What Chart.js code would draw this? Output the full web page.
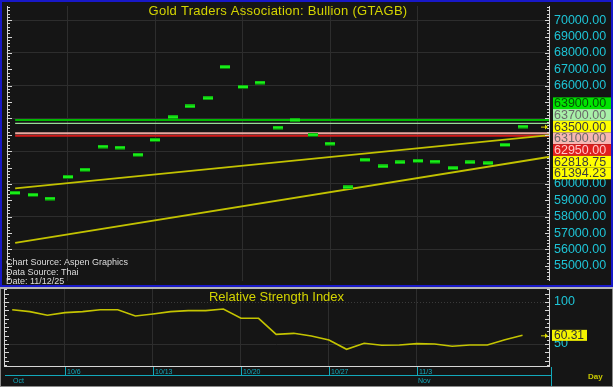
<!DOCTYPE html>
<html><head><meta charset="utf-8">
<script src="https://cdn.jsdelivr.net/npm/chart.js@4.4.1/dist/chart.umd.min.js"></script>
<style>
html,body{margin:0;padding:0;background:#151515;width:613px;height:387px;overflow:hidden;}
canvas{position:absolute;left:0;}
#frame{position:absolute;left:0;top:0;width:613px;height:287px;box-sizing:border-box;border:2px solid #1818c8;pointer-events:none;}
#sep{position:absolute;left:0;top:287px;width:613px;height:2px;background:#b4b4b4;pointer-events:none;}
#botframe{position:absolute;left:0;top:289px;width:613px;height:98px;box-sizing:border-box;border:1px solid #8a8a8a;border-top:none;pointer-events:none;}
</style></head><body>
<canvas id="cTop" width="613" height="287" style="top:0"></canvas>
<canvas id="cBot" width="613" height="100" style="top:287px"></canvas>
<div id="frame"></div><div id="sep"></div><div id="botframe"></div>
<script>
// ---------------- DATA ----------------
const dates = ['10/1','10/2','10/3','10/6','10/7','10/8','10/9','10/10','10/13','10/14','10/15','10/16','10/17','10/20','10/21','10/22','10/23','10/24','10/27','10/28','10/29','10/30','10/31','11/3','11/4','11/5','11/6','11/7','11/10','11/11'];
const closeValues = [59450,59330,59110,60425,60870,62280,62220,61780,62680,64070,64730,65230,67140,65920,66190,63440,63890,63000,62460,59790,61470,61065,61320,61405,61365,60965,61320,61260,62380,63500];
const rsiValues = [90.8,88.5,84.2,87.3,88.5,90.8,90.8,83.3,85.7,88.5,89.7,89.7,91.7,80.6,80.6,61.5,62.7,59.5,54.8,43.7,50.8,48.5,48.8,50.4,50.0,47.3,48.8,48.8,55.1,60.31];
const weekTickLabels = ['10/6','10/13','10/20','10/27','11/3'];
const monthLabels = ['Oct','Nov'];
const monthStartDates = ['10/1','11/3'];
const priceTicks = [55000,56000,57000,58000,59000,60000,61000,62000,63000,64000,65000,66000,67000,68000,69000,70000];
const hiddenPriceTicks = [61000,62000,63000,64000,65000];
const rsiTicks = [50,100];
const levelValues = [63900,63700,63100,62950];
const trendUpper = [59733,62985];
const trendLower = [56404,61662];
const trendLastValues = [62818.75,61394.23];
const lastPrice = 63500;
const lastRsi = 60.31;
const titleText = 'Gold Traders Association: Bullion (GTAGB)';
const rsiTitle = 'Relative Strength Index';
const sourceLines = ['Chart Source: Aspen Graphics','Data Source: Thai','Date: 11/12/25'];
const axisUnitLabel = 'Day';

// ---------------- STYLE / LAYOUT ----------------
const FONT = '"Liberation Sans", Arial, sans-serif';
const CYAN = '#1ec4d6';
const TEAL = '#12a9bb';
const YEL = '#cccc00';
const GRID = '#2d2d2d';
const X_MIN = -0.523, X_MAX = 30.56;
const levelColors = ['#00b800','#98dc98','#e8a8a0','#d01818'];
const levelWidths = [2,1.2,2,2];
const levelBoxBg = ['#00e400','#a8f0a8','#f6b6b2','#e01e1e'];
const levelBoxFg = ['#064d06','#6a6a6a','#6a6a6a','#ffc8c8'];
const yellowBoxBg = '#ffff00', yellowBoxFg = '#3c3c3c';

const dash = document.createElement('canvas');
dash.width = 10; dash.height = 4;
(function(){const g = dash.getContext('2d');
  g.fillStyle = '#0a6a0a'; g.fillRect(0,0,10,4);
  g.fillStyle = '#18f018'; g.fillRect(0,0.5,10,2.6);})();

const idxOf = d => dates.indexOf(d);
const weekIdx = weekTickLabels.map(idxOf);

function xScaleOpts(){
  return {type:'linear', min:X_MIN, max:X_MAX, display:true,
    ticks:{display:false}, border:{display:false},
    grid:{color:GRID, drawTicks:false, lineWidth:1},
    afterBuildTicks: s => { s.ticks = weekIdx.map(v => ({value:v})); },
    afterFit: s => { s.height = 0; s.paddingLeft = 0; s.paddingRight = 0; }
  };
}

function drawAxisLines(ctx, a, yScale, lo, hi, step, majorEvery){
  ctx.strokeStyle = '#d6d6d6'; ctx.lineWidth = 1;
  ctx.beginPath();
  ctx.moveTo(a.left + 1.5, a.top); ctx.lineTo(a.left + 1.5, a.bottom);
  ctx.moveTo(a.right - 0.5, a.top); ctx.lineTo(a.right - 0.5, a.bottom);
  for (let v = lo; v <= hi + 1e-9; v += step){
    const py = Math.round(yScale.getPixelForValue(v)) + 0.5;
    if (py < a.top || py > a.bottom) continue;
    const major = Math.abs(v / majorEvery - Math.round(v / majorEvery)) < 1e-6;
    const len = major ? 5 : 3;
    ctx.moveTo(a.left + 1, py); ctx.lineTo(a.left + 1 + len, py);
    ctx.moveTo(a.right, py); ctx.lineTo(a.right - len, py);
  }
  ctx.stroke();
}

function drawArrow(ctx, x, y, color){
  ctx.strokeStyle = color; ctx.fillStyle = color; ctx.lineWidth = 1;
  ctx.beginPath(); ctx.moveTo(x - 4, y + 0.5); ctx.lineTo(x + 1, y + 0.5); ctx.stroke();
  ctx.beginPath(); ctx.moveTo(x, y - 2); ctx.lineTo(x + 3, y + 0.5); ctx.lineTo(x, y + 3); ctx.closePath(); ctx.fill();
}

const topDeco = {
  id: 'topDeco',
  afterDraw(chart){
    const {ctx, chartArea:a, scales:{y}} = chart;
    ctx.save();
    drawAxisLines(ctx, a, y, 54200, 70800, 200, 1000);
    // title
    ctx.font = '13px ' + FONT; ctx.fillStyle = '#d4d400';
    ctx.textAlign = 'center'; ctx.textBaseline = 'middle';
    try { ctx.letterSpacing = '0.25px'; } catch(e) {}
    ctx.fillText(titleText, (a.left + a.right) / 2, 11);
    try { ctx.letterSpacing = '0px'; } catch(e) {}
    // source text
    ctx.font = '9px ' + FONT; ctx.fillStyle = '#dedede'; ctx.textAlign = 'left';
    sourceLines.forEach((t, i) => ctx.fillText(t, 6, 263 + i * 9.3));
    // label boxes
    const boxes = [];
    levelValues.forEach((v, i) => boxes.push({v, bg:levelBoxBg[i], fg:levelBoxFg[i]}));
    boxes.push({v:lastPrice, bg:yellowBoxBg, fg:yellowBoxFg, anchor:true});
    trendLastValues.forEach(v => boxes.push({v, bg:yellowBoxBg, fg:yellowBoxFg}));
    boxes.sort((p, q) => q.v - p.v);
    const ai = boxes.findIndex(b => b.anchor);
    const ay = y.getPixelForValue(lastPrice);
    const h = 11.7;
    ctx.font = '12.5px ' + FONT; ctx.textBaseline = 'middle'; ctx.textAlign = 'left';
    boxes.forEach((b, i) => {
      const cy = ay + (i - ai) * h;
      ctx.fillStyle = b.bg; ctx.fillRect(a.right + 3, cy - h / 2, 60, h);
      ctx.fillStyle = b.fg; ctx.fillText(b.v.toFixed(2), a.right + 4, cy + 0.5);
    });
    drawArrow(ctx, a.right - 5, ay, '#dcdc00');
    ctx.restore();
  }
};

const botDeco = {
  id: 'botDeco',
  beforeDatasetsDraw(chart){
    const {ctx, chartArea:a, scales:{y}} = chart;
    ctx.save();
    ctx.strokeStyle = '#3a3a3a'; ctx.lineWidth = 1; ctx.setLineDash([1,2]);
    const py = Math.round(y.getPixelForValue(100)) + 0.5;
    ctx.beginPath(); ctx.moveTo(a.left, py); ctx.lineTo(a.right, py); ctx.stroke();
    ctx.restore();
  },
  afterDraw(chart){
    const {ctx, chartArea:a, scales:{x, y}} = chart;
    ctx.save();
    drawAxisLines(ctx, a, y, 25, 115, 5, 10);
    // bottom border of plot
    ctx.strokeStyle = '#d6d6d6'; ctx.beginPath();
    ctx.moveTo(a.left + 1, a.bottom + 0.5); ctx.lineTo(a.right, a.bottom + 0.5); ctx.stroke();
    // title
    ctx.font = '13px ' + FONT; ctx.fillStyle = '#d4d400';
    ctx.textAlign = 'center'; ctx.textBaseline = 'middle';
    ctx.fillText(rsiTitle, (a.left + a.right) / 2, 10);
    // date axis
    const base = a.bottom + 9.5;
    ctx.strokeStyle = TEAL; ctx.lineWidth = 1;
    ctx.beginPath(); ctx.moveTo(a.left + 2, base); ctx.lineTo(a.right + 1, base);
    ctx.moveTo(a.right + 1.5, a.bottom + 1); ctx.lineTo(a.right + 1.5, chart.height);
    weekIdx.forEach(i => { const px = Math.round(x.getPixelForValue(i)) + 0.5; ctx.moveTo(px, a.bottom + 1); ctx.lineTo(px, base); });
    ctx.stroke();
    ctx.font = '7px ' + FONT; ctx.fillStyle = TEAL; ctx.textAlign = 'left'; ctx.textBaseline = 'middle';
    weekIdx.forEach((i, k) => ctx.fillText(weekTickLabels[k], Math.round(x.getPixelForValue(i)) + 2, a.bottom + 6));
    monthStartDates.forEach((d, k) => ctx.fillText(monthLabels[k], Math.round(x.getPixelForValue(idxOf(d))) + 1, a.bottom + 15));
    ctx.font = 'bold 8px ' + FONT; ctx.fillStyle = '#c8c800';
    ctx.fillText(axisUnitLabel, 588, a.bottom + 11);
    // last RSI box
    const ry = y.getPixelForValue(lastRsi);
    ctx.fillStyle = '#f4f400'; ctx.fillRect(a.right + 2, ry - 5.5, 35, 11);
    ctx.fillStyle = '#303030'; ctx.font = '12px ' + FONT; ctx.textAlign = 'left';
    ctx.fillText(lastRsi.toFixed(2), a.right + 4, ry + 0.5);
    drawArrow(ctx, a.right - 5, ry, '#dcdc00');
    ctx.restore();
  }
};

const pts = arr => arr.map((v, i) => ({x:i, y:v}));
const hline = v => [{x:0, y:v}, {x:X_MAX, y:v}];

const topDatasets = [
  {type:'line', data:pts(closeValues), showLine:false, pointStyle:dash, pointRadius:5, pointHoverRadius:5, order:0}
];
trendUpper && topDatasets.push({type:'line', data:[{x:0,y:trendUpper[0]},{x:X_MAX,y:trendUpper[1]}], borderColor:'#c2c200', borderWidth:1.8, pointRadius:0, order:2});
topDatasets.push({type:'line', data:[{x:0,y:trendLower[0]},{x:X_MAX,y:trendLower[1]}], borderColor:'#c2c200', borderWidth:1.8, pointRadius:0, order:2});
levelValues.forEach((v, i) => topDatasets.push({type:'line', data:hline(v), borderColor:levelColors[i], borderWidth:levelWidths[i], pointRadius:0, order:3}));

new Chart(document.getElementById('cTop'), {
  type:'line',
  data:{datasets:topDatasets},
  options:{
    responsive:false, animation:false, events:[],
    layout:{padding:{left:3, right:0, top:3, bottom:3}},
    plugins:{legend:{display:false}, tooltip:{enabled:false}, title:{display:false}},
    scales:{
      x: xScaleOpts(),
      y: {type:'linear', position:'right', min:54073, max:70866,
        border:{display:false},
        grid:{drawTicks:false, color: c => (c.tick && c.tick.value % 2000 === 0) ? GRID : 'rgba(0,0,0,0)'},
        ticks:{color:CYAN, padding:4, autoSkip:false, font:{family:FONT, size:12.5},
          callback: v => hiddenPriceTicks.includes(v) ? '' : Number(v).toFixed(2)},
        afterBuildTicks: s => { s.ticks = priceTicks.map(v => ({value:v})); },
        afterFit: s => { s.width = 63; s.paddingTop = 0; s.paddingBottom = 0; }
      }
    }
  },
  plugins:[topDeco]
});

new Chart(document.getElementById('cBot'), {
  type:'line',
  data:{datasets:[{data:pts(rsiValues), borderColor:'#c4c400', borderWidth:1.6, pointRadius:0, tension:0}]},
  options:{
    responsive:false, animation:false, events:[],
    layout:{padding:{left:3, right:0, top:2, bottom:21}},
    plugins:{legend:{display:false}, tooltip:{enabled:false}, title:{display:false}},
    scales:{
      x: xScaleOpts(),
      y: {type:'linear', position:'right', min:23.81, max:115.48,
        border:{display:false},
        grid:{drawTicks:false, color: c => (c.tick && c.tick.value === 50) ? GRID : 'rgba(0,0,0,0)'},
        ticks:{color:CYAN, padding:4, autoSkip:false, font:{family:FONT, size:12.5},
          callback: v => String(v)},
        afterBuildTicks: s => { s.ticks = rsiTicks.map(v => ({value:v})); },
        afterFit: s => { s.width = 63; s.paddingTop = 0; s.paddingBottom = 0; }
      }
    }
  },
  plugins:[botDeco]
});
</script>
</body></html>
